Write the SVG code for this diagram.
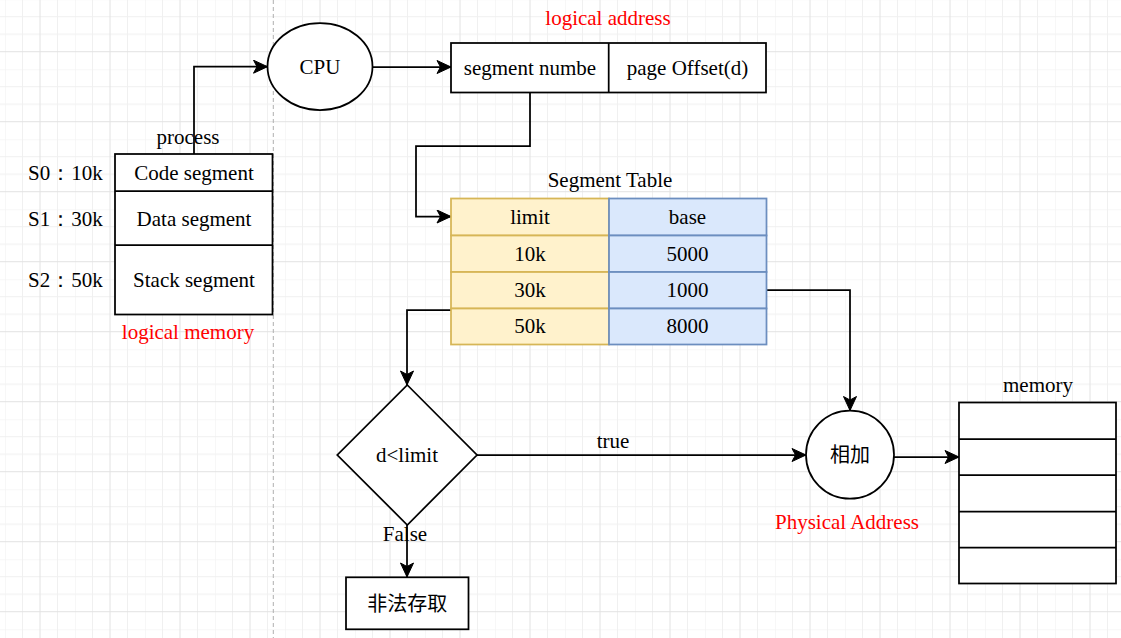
<svg xmlns="http://www.w3.org/2000/svg" width="1121" height="638" viewBox="0 0 1121 638">
<defs>
<pattern id="grid" patternUnits="userSpaceOnUse" x="5" y="-0.8" width="70" height="70">
<path d="M0,0 V70 M17.5,0 V70 M52.5,0 V70 M0,0 H70 M0,17.5 H70 M0,35 H70" stroke="#f0f0f0" stroke-width="1" fill="none"/>
<path d="M35,0 V70 M0,52.5 H70" stroke="#e2e2e2" stroke-width="1" fill="none"/>
</pattern>
<marker id="arr" markerUnits="userSpaceOnUse" markerWidth="16" markerHeight="14" viewBox="0 0 16 14" refX="15" refY="7" orient="auto">
<path d="M1,0.5 L15,7 L1,13.5 L4.5,7 Z" fill="#000" stroke="#000" stroke-width="1"/>
</marker>
</defs>
<style>
.t{font-family:"Liberation Serif","Times New Roman",serif;font-size:21px;fill:#000;text-anchor:middle}
.r{fill:#ff0000}
.c{font-family:"Noto Sans CJK SC","Noto Sans CJK TC",sans-serif;font-size:20px;fill:#000;text-anchor:middle}
.box{fill:#fff;stroke:#000;stroke-width:1.75}
.y{fill:#fff2cc;stroke:#d6b656;stroke-width:1.75}
.b{fill:#dae8fc;stroke:#6c8ebf;stroke-width:1.75}
.ln{fill:none;stroke:#000;stroke-width:1.75}
.con{fill:none;stroke:#000;stroke-width:1.75;marker-end:url(#arr)}
</style>
<rect x="0" y="0" width="1121" height="638" fill="#fff"/>
<rect x="0" y="0" width="1121" height="638" fill="url(#grid)"/>
<line x1="273.3" y1="0" x2="273.3" y2="638" stroke="#b0b0b0" stroke-width="1" stroke-dasharray="4,3"/>

<g id="connectors">
<path class="con" d="M194,154 V66.7 H267.5"/>
<path class="con" d="M372.5,67 H451"/>
<path class="con" d="M530,92.5 V146 H416 V216.5 H451"/>
<path class="con" d="M451,310 H407 V385"/>
<path class="con" d="M766,290 H850 V410.5"/>
<path class="con" d="M477,455 H806"/>
<path class="con" d="M407,525 V577"/>
<path class="con" d="M894,457 H959"/>
</g>

<g id="process">
<text class="t" x="188" y="144">process</text>
<rect class="box" x="115" y="154" width="157.5" height="160.5"/>
<path class="ln" d="M115,191 H272.5 M115,245 H272.5"/>
<text class="t" x="194" y="180">Code segment</text>
<text class="t" x="194" y="226">Data segment</text>
<text class="t" x="194" y="287">Stack segment</text>
</g>
<g id="segment-sizes">
<text class="t" x="28" y="180" style="text-anchor:start">S0：10k</text>
<text class="t" x="28" y="226" style="text-anchor:start">S1：30k</text>
<text class="t" x="28" y="287" style="text-anchor:start">S2：50k</text>
</g>
<g id="logical-memory-label">
<text class="t r" x="188" y="339">logical memory</text>
</g>

<g id="cpu">
<ellipse class="box" cx="320" cy="66.5" rx="52.5" ry="43.5"/>
<text class="t" x="320" y="74">CPU</text>
</g>

<g id="logical-address">
<text class="t r" x="608" y="25">logical address</text>
<rect class="box" x="451" y="43" width="315" height="49.5"/>
<path class="ln" d="M608.7,43 V92.5"/>
<text class="t" x="530" y="75">segment numbe</text>
<text class="t" x="687.5" y="75">page Offset(d)</text>
</g>

<g id="segment-table">
<text class="t" x="610" y="187">Segment Table</text>
<rect class="y" x="451" y="198.5" width="158" height="37"/>
<rect class="y" x="451" y="235.5" width="158" height="36.5"/>
<rect class="y" x="451" y="272" width="158" height="36.5"/>
<rect class="y" x="451" y="308.5" width="158" height="36"/>
<rect class="b" x="609" y="198.5" width="157.5" height="37"/>
<rect class="b" x="609" y="235.5" width="157.5" height="36.5"/>
<rect class="b" x="609" y="272" width="157.5" height="36.5"/>
<rect class="b" x="609" y="308.5" width="157.5" height="36"/>
<text class="t" x="530" y="223.5">limit</text>
<text class="t" x="530" y="260.5">10k</text>
<text class="t" x="530" y="297">30k</text>
<text class="t" x="530" y="333">50k</text>
<text class="t" x="687.5" y="223.5">base</text>
<text class="t" x="687.5" y="260.5">5000</text>
<text class="t" x="687.5" y="297">1000</text>
<text class="t" x="687.5" y="333">8000</text>
</g>

<g id="decision">
<path class="box" d="M407.3,385 L477,455 L407.3,525 L337.3,455 Z"/>
<text class="t" x="407" y="462">d&lt;limit</text>
</g>
<g id="label-false">
<text class="t" x="405" y="540.5">False</text>
</g>
<g id="label-true">
<text class="t" x="613" y="447.5">true</text>
</g>

<g id="illegal">
<rect class="box" x="346" y="577.3" width="122.5" height="52"/>
<text class="c" x="407.3" y="610.5">非法存取</text>
</g>

<g id="add">
<circle class="box" cx="850" cy="454.7" r="44"/>
<text class="c" x="850" y="462">相加</text>
</g>
<g id="physical-address-label">
<text class="t r" x="847" y="528.5">Physical Address</text>
</g>

<g id="memory">
<text class="t" x="1038" y="392">memory</text>
<rect class="box" x="959" y="402.5" width="157" height="181"/>
<path class="ln" d="M959,439 H1116 M959,475 H1116 M959,511.7 H1116 M959,547.7 H1116"/>
</g>
</svg>
